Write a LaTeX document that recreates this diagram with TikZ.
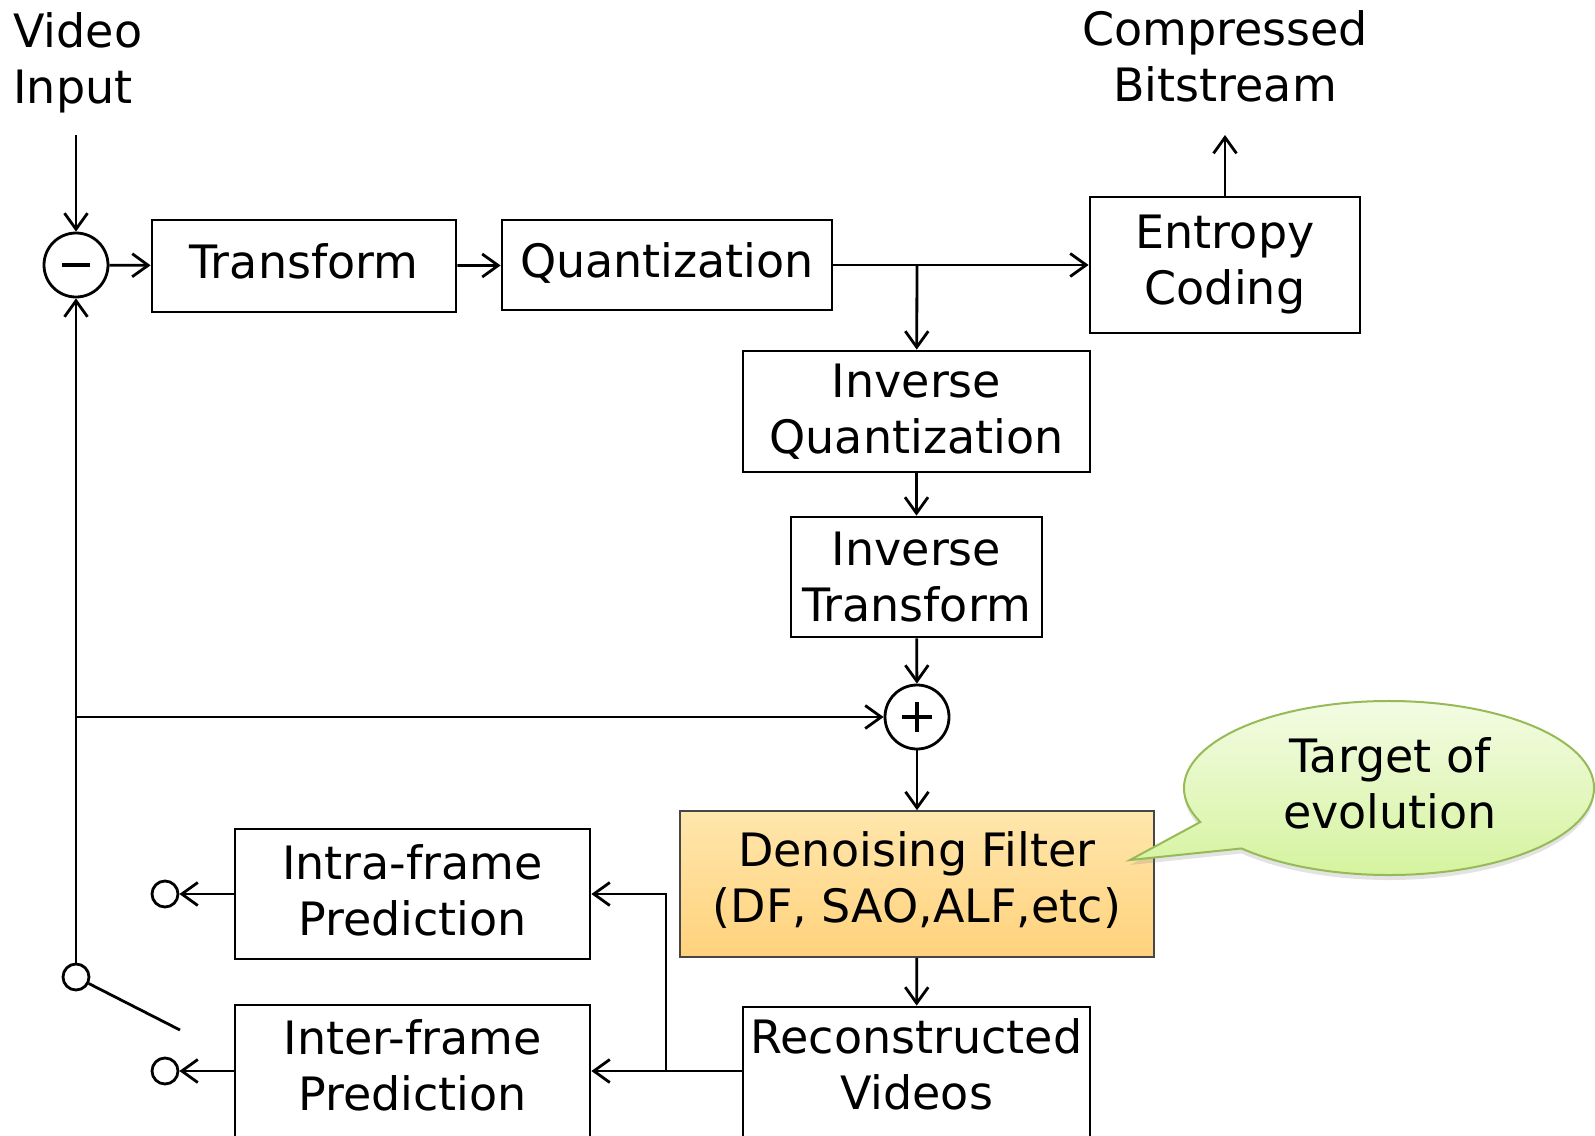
\documentclass[tikz,border=0pt]{standalone}
\usepackage{fontspec}
\setmainfont{DejaVu Sans}
\usetikzlibrary{arrows.meta,shadows}

\definecolor{dfTop}{RGB}{255,230,172}
\definecolor{dfBot}{RGB}{255,210,124}
\definecolor{dfEdge}{RGB}{70,70,70}
\definecolor{bubTop}{RGB}{245,252,232}
\definecolor{bubBot}{RGB}{212,243,156}
\definecolor{bubEdge}{RGB}{150,186,86}

\begin{document}
\begin{tikzpicture}[x=1pt,y=-1pt,
  font=\fontsize{46}{56}\selectfont,
  line width=2.8pt,
  arr/.style={-{Straight Barb[length=16pt,width=23pt]}},
  blk/.style={draw, rectangle, align=center, inner sep=0pt},
  oneline/.style={text height=35pt, text depth=10pt},
  sumnode/.style={draw, circle, minimum size=64pt, inner sep=0pt},
  port/.style={draw, circle, minimum size=26pt, inner sep=0pt},
  lbl/.style={inner sep=0pt, align=center}]

\useasboundingbox (0,0) rectangle (1595,1135);

% labels at the ends of the chain
\node[lbl, align=left, anchor=north west] (vinlbl) at (12,11) {Video\\Input};
\node[lbl, anchor=north] (bslbl) at (1225,9) {Compressed\\Bitstream};
\coordinate (vin) at (76,135);
\coordinate (bs) at (1225,135);

% forward path
\node[sumnode] (sub) at (76,265) {};
\draw[line width=4pt] ([xshift=-14pt]sub.center) -- ([xshift=14pt]sub.center);
\node[blk, oneline, minimum width=304pt, minimum height=92pt] (tr) at (304,266) {Transform};
\node[blk, oneline, minimum width=330pt, minimum height=90pt] (qu) at (667,265) {Quantization};
\node[blk, minimum width=270pt, minimum height=136pt] (ec) at (1225,265) {Entropy\\Coding};

% reconstruction path
\node[blk, minimum width=347pt, minimum height=121pt] (iq) at (916.5,411.5) {Inverse\\Quantization};
\node[blk, minimum width=251pt, minimum height=120pt] (it) at (916.5,577) {Inverse\\Transform};
\node[sumnode] (add) at (917,717) {};
\draw[line width=3.4pt] ([xshift=-15pt]add.center) -- ([xshift=15pt]add.center);
\draw[line width=3.4pt] ([yshift=-15pt]add.center) -- ([yshift=15pt]add.center);

\node[blk, draw=dfEdge, line width=1.6pt, top color=dfTop, bottom color=dfBot,
      minimum width=474pt, minimum height=146pt] (df) at (917,884) {};
\node[lbl] (dftxt) at (917,880) {Denoising Filter\\(DF, SAO,ALF,etc)};
\node[blk, minimum width=347pt, minimum height=131pt] (rv) at (916.5,1072.5) {};
\node[lbl] (rvtxt) at (916.5,1064) {Reconstructed\\Videos};

% prediction
\node[blk, minimum width=355pt, minimum height=130pt] (intra) at (412.5,894) {};
\node[lbl] (intratxt) at (412.5,890) {Intra-frame\\Prediction};
\node[blk, minimum width=355pt, minimum height=133pt] (inter) at (412.5,1071.5) {};
\node[lbl] (intertxt) at (412.5,1065) {Inter-frame\\Prediction};
\node[port] (pintra) at (165,894) {};
\node[port] (pinter) at (165,1071) {};
\node[port] (sw) at (76,977) {};
\coordinate (swend) at (180,1030);
\coordinate (fb) at (76,717);
\coordinate (qsplit) at (917,265);
\coordinate (rsplit) at (666,1071);

% connectors
\draw[arr] (vin) -- (sub);
\draw[arr] (sub) -- (tr);
\draw[arr] (tr) -- (qu);
\draw[arr] (qu) -- (ec);
\draw[arr] (ec) -- (bs);
\draw[arr] (qsplit) -- (iq);
\draw[arr] (iq) -- (it);
\draw[arr] (it) -- (add);
\draw[arr] (add) -- (df);
\draw[arr] (df) -- (rv);
\draw[arr] (rv.west |- pinter) -- (inter.east |- pinter);
\draw[arr] (rsplit) |- (intra.east);
\draw[arr] (intra.west) -- (pintra);
\draw[arr] (inter.west |- pinter) -- (pinter);
\draw[arr] (sw) -- (sub);
\draw[arr] (fb) -- (add);
\draw (sw) -- (swend);

% speech bubble
\path[draw=bubEdge, line width=2pt, top color=bubTop, bottom color=bubBot,
      drop shadow={shadow xshift=0pt, shadow yshift=-5pt, opacity=0.22}]
  (1200.3,822) arc[start angle=157, end angle=496, x radius=205, y radius=87]
  -- (1130,860) -- cycle;
\node[lbl] (bubtxt) at (1390,783) {Target of\\evolution};

\end{tikzpicture}
\end{document}
